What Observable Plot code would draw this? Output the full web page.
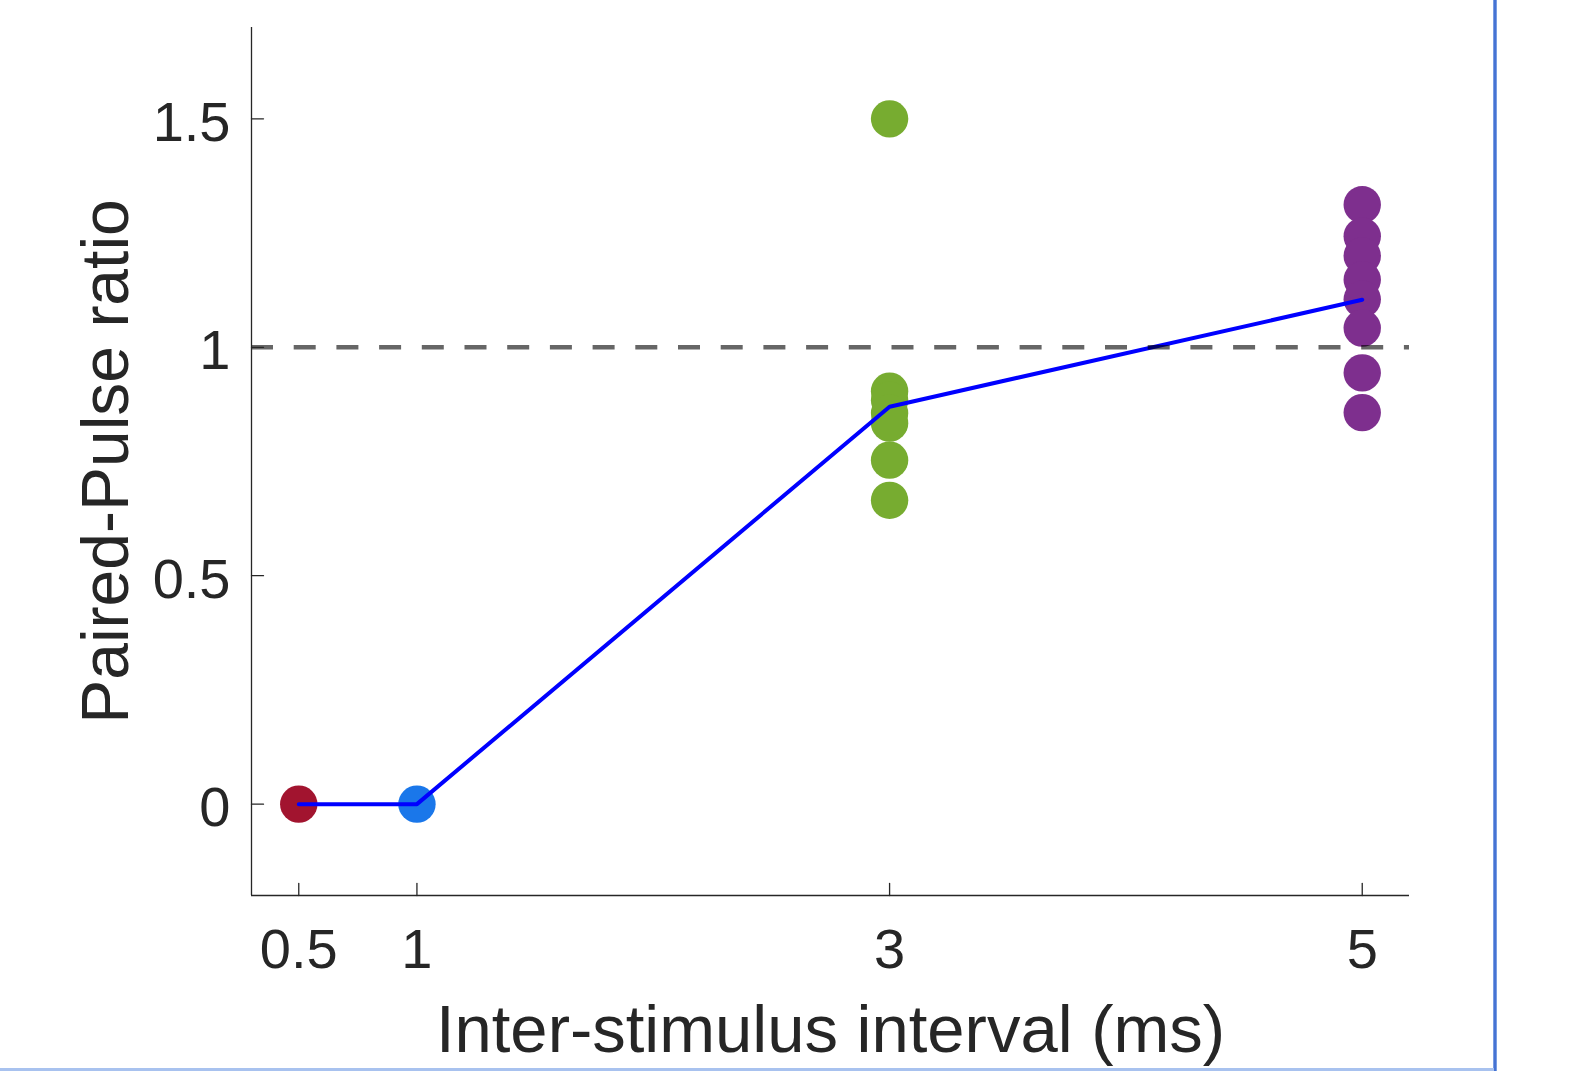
<!DOCTYPE html>
<html><head><meta charset="utf-8">
<script src="https://cdn.jsdelivr.net/npm/d3@7"></script>
<script src="https://cdn.jsdelivr.net/npm/@observablehq/plot@0.6"></script>
<style>
body{margin:0;background:#fff;}
#wrap{position:relative;width:1577px;height:1071px;overflow:hidden;background:#fff;}
#wrap svg{position:absolute;left:0;top:0;}
.edge-r{position:absolute;left:1493px;top:0;width:4px;height:1071px;background:linear-gradient(to right,#9dbbee,#4673d3 30%,#4673d3 70%,#9dbbee);}
.edge-b{position:absolute;left:0;top:1068px;width:1494px;height:3px;background:#a8c2ef;}
</style></head><body><div id="wrap"></div>
<script>
const intervals = [0.5, 1, 3, 5];
const groupColors = ["#A2142F", "#1A77EA", "#77AC30", "#7E2F8E"];
const ratios05 = [0];
const ratios1 = [0];
const ratios3 = [1.50, 0.904, 0.884, 0.856, 0.834, 0.753, 0.665];
const ratios5 = [1.312, 1.243, 1.200, 1.148, 1.105, 1.042, 0.944, 0.857];
const meanRatio = [0, 0, 0.870, 1.104];
const xTicks = [0.5, 1, 3, 5];
const yTicks = [0, 0.5, 1, 1.5];
const referenceLevel = [1];
const xLabel = "Inter-stimulus interval (ms)";
const yLabel = "Paired-Pulse ratio";

const groups = [ratios05, ratios1, ratios3, ratios5];
const points = groups.flatMap((vals, i) => vals.map(v => ({isi: intervals[i], ratio: v, color: groupColors[i]})));
const meanLine = intervals.map((d, i) => ({isi: d, ratio: meanRatio[i]}));

const ink = "#262626";
const tickShape = {draw(context, l) { context.moveTo(0, 0); context.lineTo(0, -l); }};

const chart = Plot.plot({
  width: 1577,
  height: 1071,
  marginLeft: 251,
  marginRight: 168,
  marginTop: 27,
  marginBottom: 176,
  style: {fontFamily: "'Liberation Sans', Arial, Helvetica, sans-serif", color: ink, background: "transparent"},
  x: {domain: [0.3, 5.2], label: null},
  y: {domain: [-0.2, 1.7], label: null},
  marks: [
    Plot.dot(points, {x: "isi", y: "ratio", r: 18.7, fill: d => d.color, stroke: "none"}),
    Plot.line(meanLine, {x: "isi", y: "ratio", stroke: "#0000FF", strokeWidth: 4}),
    Plot.ruleY(referenceLevel, {stroke: "#000", strokeOpacity: 0.6, strokeWidth: 4.5, strokeDasharray: "22,20.7"}),
    Plot.ruleX([0.3], {stroke: ink, strokeWidth: 1.3}),
    Plot.ruleY([-0.2], {stroke: ink, strokeWidth: 1.3}),
    Plot.vector(xTicks, {x: d => d, y: () => -0.2, rotate: 0, length: 12, anchor: "start", shape: tickShape, stroke: ink, strokeWidth: 1.3, fill: "none"}),
    Plot.vector(yTicks, {x: () => 0.3, y: d => d, rotate: 90, length: 12, anchor: "start", shape: tickShape, stroke: ink, strokeWidth: 1.3, fill: "none"}),
    Plot.axisX(xTicks, {tickSize: 0, tickPadding: 33, fontSize: 56, tickFormat: d => String(d), label: null}),
    Plot.axisY(yTicks, {tickSize: 0, tickPadding: 21, fontSize: 56, dy: 4, tickFormat: d => String(d), label: null}),
    Plot.text([xLabel], {text: d => d, frameAnchor: "bottom", dy: 135, fontSize: 67, lineAnchor: "middle", textAnchor: "middle"}),
    Plot.text([yLabel], {text: d => d, frameAnchor: "left", dx: -145, rotate: -90, fontSize: 66, lineAnchor: "middle", textAnchor: "middle"})
  ]
});
const wrap = document.getElementById("wrap");
wrap.appendChild(chart);
const r = document.createElement("div"); r.className = "edge-r"; wrap.appendChild(r);
const b = document.createElement("div"); b.className = "edge-b"; wrap.appendChild(b);
</script></body></html>
